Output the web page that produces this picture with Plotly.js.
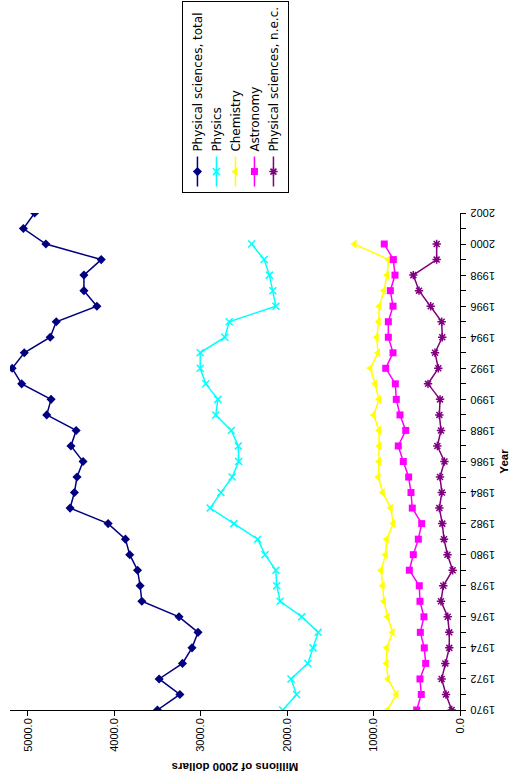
<!DOCTYPE html>
<html>
<head>
<meta charset="utf-8">
<script src="https://cdn.plot.ly/plotly-3.0.1.min.js"></script>
<style>
  html, body { margin: 0; padding: 0; background: #ffffff; }
  #frame { position: absolute; left: 0; top: 0; width: 513px; height: 782px; overflow: hidden; }
  /* the chart is laid out landscape, then turned a quarter turn counter-clockwise */
  #chart { position: absolute; left: 0; top: 0; width: 782px; height: 513px;
           transform-origin: 0 0; transform: translate(0, 782px) rotate(-90deg); }
</style>
</head>
<body>
<div id="frame"><div id="chart"></div></div>
<script>
// Federal obligations for physical sciences research, millions of 2000 dollars
const yearsAll = [1970,1971,1972,1973,1974,1975,1976,1977,1978,1979,1980,1981,1982,1983,1984,1985,
                  1986,1987,1988,1989,1990,1991,1992,1993,1994,1995,1996,1997,1998,1999,2000,2001,2002];
const yearsField = yearsAll.slice(0, 31); // 1970-2000

const totalValues = [3500,3240,3480,3210,3100,3030,3250,3680,3700,3730,3820,3870,4070,4510,4460,4430,
                     4360,4500,4440,4780,4730,5070,5180,5040,4740,4670,4200,4350,4350,4150,4790,5050,4920];
const physicsValues = [2050,1890,1955,1760,1700,1640,1830,2080,2120,2130,2255,2340,2615,2890,2765,2635,
                       2560,2565,2645,2825,2800,2940,3005,3005,2720,2670,2130,2165,2205,2265,2410];
const chemistryValues = [840,735,833,850,848,780,837,880,894,914,859,848,771,801,894,945,
                         937,933,937,998,937,983,1037,948,963,940,933,879,844,825,1220];
const astronomyValues = [501,448,463,397,413,459,417,463,471,586,540,482,443,552,567,594,
                         656,714,628,694,737,748,859,775,829,829,775,806,752,771,876];
const otherValues = [96,162,212,170,124,124,142,220,193,85,145,185,205,239,210,231,
                     180,262,220,239,231,370,251,289,205,212,339,474,540,270,270];

const seriesNames = ['Physical sciences, total','Physics','Chemistry','Astronomy','Physical sciences, n.e.c.'];

const FONT = 'Liberation Sans, Arial, sans-serif';
const LEGEND_FONT = 'DejaVu Sans, Verdana, sans-serif';

function series(name, x, y, color, symbol, size, open) {
  return {
    type: 'scatter', mode: 'lines+markers', name: name, x: x, y: y,
    line: { color: color, width: 1.5 },
    marker: open
      ? { symbol: symbol, size: size, color: color, line: { color: color, width: 1.5 } }
      : { symbol: symbol, size: size, color: color, line: { width: 0 } }
  };
}

const traces = [
  series(seriesNames[0], yearsAll, totalValues, '#000080', 'diamond', 7, false),
  series(seriesNames[1], yearsField, physicsValues, '#00FFFF', 'x-thin-open', 7, true),
  series(seriesNames[2], yearsField, chemistryValues, '#FFFF00', 'triangle-up', 8, false),
  series(seriesNames[3], yearsField, astronomyValues, '#FF00FF', 'square', 7, false),
  series(seriesNames[4], yearsField, otherValues, '#800080', 'asterisk-open', 7, true)
];

const layout = {
  width: 782, height: 513, autosize: false,
  margin: { l: 72, r: 213, t: 10, b: 53, autoexpand: false },
  paper_bgcolor: '#ffffff', plot_bgcolor: '#ffffff',
  font: { family: FONT, size: 11, color: '#000000' },
  showlegend: true,
  xaxis: {
    range: [1970, 2002], tick0: 1970, dtick: 2, tickangle: -90,
    ticks: 'outside', ticklen: 5, tickcolor: '#000000', tickwidth: 1,
    minor: { dtick: 1, ticks: 'outside', ticklen: 5, tickcolor: '#000000', tickwidth: 1 },
    showline: true, linecolor: '#000000', linewidth: 1,
    showgrid: false, zeroline: false, automargin: false,
    tickfont: { family: FONT, size: 11 },
    title: { text: 'Year', font: { family: FONT, size: 11.5, weight: 'bold' }, standoff: 6 }
  },
  yaxis: {
    range: [0, 5205], tick0: 0, dtick: 1000, tickformat: '.1f',
    ticks: 'outside', ticklen: 5, tickcolor: '#000000', tickwidth: 1,
    showline: true, linecolor: '#000000', linewidth: 1,
    showgrid: false, zeroline: false, automargin: false,
    tickfont: { family: FONT, size: 11 },
    title: { text: 'Millions of 2000 dollars', font: { family: FONT, size: 11.5, weight: 'bold' }, standoff: 8 }
  },
  legend: {
    x: 1.041, y: 0.499, xanchor: 'left', yanchor: 'middle',
    bgcolor: '#ffffff', bordercolor: '#000000', borderwidth: 1,
    font: { family: LEGEND_FONT, size: 12 }, itemwidth: 30, tracegroupgap: 0
  }
};

Plotly.newPlot('chart', traces, layout, { staticPlot: true, displayModeBar: false });
</script>
</body>
</html>
